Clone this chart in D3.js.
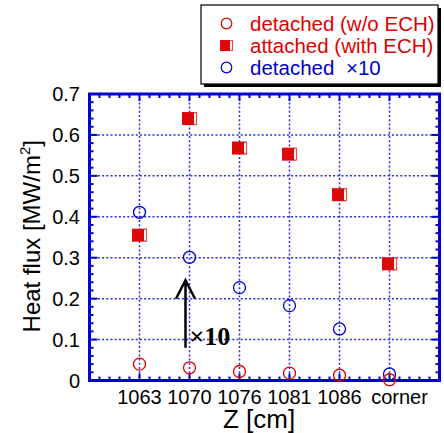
<!DOCTYPE html>
<html lang="en">
<head>
<meta charset="utf-8">
<style type="text/css">
    body { margin: 0; background: #fff; }
    text { font-family: "Liberation Sans", Arial, sans-serif; }
    .grid { stroke: #2a2ae0; stroke-width: 1.5px; stroke-dasharray: 2,2.2; fill: none; }
    .frame { stroke: #0000d0; stroke-width: 3px; fill: none; }
    .tick { stroke: #0000d0; stroke-width: 2px; }
</style>
</head>
<body>
<svg width="444" height="433"></svg>

<script src="https://cdnjs.cloudflare.com/ajax/libs/d3/7.8.5/d3.min.js"></script>
<script type="text/javascript">
    // data
    var categories = ["1063", "1070", "1076", "1081", "1086", "corner"];
    var detached = [0.040, 0.031, 0.022, 0.018, 0.013, 0.002];
    var attached = [0.355, 0.640, 0.568, 0.553, 0.454, 0.285];
    var detachedX10 = [0.411, 0.301, 0.227, 0.183, 0.126, 0.016];
    var yTicks = [0, 0.1, 0.2, 0.3, 0.4, 0.5, 0.6, 0.7];
    var legendLabels = ["detached (w/o ECH)", "attached (with ECH)", "detached"];
    var arrowFrom = 0.08, arrowTo = 0.245, arrowCat = 1;

    var red = "#e00000", blue = "#0000d0";

    var svg = d3.select("svg"),
        pLeft = 89.5, pRight = 439.5, pTop = 94, pBottom = 380.5;

    var x = d3.scaleLinear().domain([0, categories.length + 1]).range([pLeft, pRight]);
    var y = d3.scaleLinear().domain([0, 0.7]).range([pBottom, pTop]);
    var xc = function (i) { return x(i + 1); };

    // grid
    svg.selectAll(".hgrid")
        .data(yTicks.slice(1, -1))
        .enter().append("line")
        .attr("class", "grid")
        .attr("x1", pLeft).attr("x2", pRight)
        .attr("y1", function (d) { return y(d); })
        .attr("y2", function (d) { return y(d); });

    svg.selectAll(".vgrid")
        .data(categories)
        .enter().append("line")
        .attr("class", "grid")
        .attr("x1", function (d, i) { return xc(i); })
        .attr("x2", function (d, i) { return xc(i); })
        .attr("y1", pTop).attr("y2", pBottom);

    // ticks, inward on all four sides
    var ticks = svg.append("g");
    d3.range(0, 7.01, 0.2).forEach(function (v) {
        var major = Math.abs(v - Math.round(v)) < 0.01;
        var len = major ? 7 : 4;
        ticks.append("line").attr("class", "tick")
            .attr("x1", x(v)).attr("x2", x(v)).attr("y1", pBottom).attr("y2", pBottom - len);
        ticks.append("line").attr("class", "tick")
            .attr("x1", x(v)).attr("x2", x(v)).attr("y1", pTop).attr("y2", pTop + len);
    });
    d3.range(0, 0.701, 0.02).forEach(function (v) {
        var major = Math.abs(v * 10 - Math.round(v * 10)) < 0.01;
        var len = major ? 8 : 4;
        ticks.append("line").attr("class", "tick")
            .attr("x1", pLeft).attr("x2", pLeft + len).attr("y1", y(v)).attr("y2", y(v));
        ticks.append("line").attr("class", "tick")
            .attr("x1", pRight).attr("x2", pRight - len).attr("y1", y(v)).attr("y2", y(v));
    });

    svg.append("rect").attr("class", "frame")
        .attr("x", pLeft).attr("y", pTop)
        .attr("width", pRight - pLeft).attr("height", pBottom - pTop);

    // tick labels
    svg.selectAll(".ylab")
        .data(yTicks)
        .enter().append("text")
        .attr("x", 80)
        .attr("y", function (d) { return y(d); })
        .attr("dy", "0.36em")
        .attr("text-anchor", "end")
        .attr("font-size", 20)
        .text(function (d) { return d === 0 ? "0" : d3.format(".1f")(d); });

    // "corner" sits a little right of its grid line in the original
    svg.selectAll(".xlab")
        .data(categories)
        .enter().append("text")
        .attr("x", function (d, i) { return xc(i) + (i === categories.length - 1 ? 10 : 0); })
        .attr("y", 404)
        .attr("text-anchor", "middle")
        .attr("font-size", 20)
        .text(function (d) { return d; });

    svg.append("text")
        .attr("x", 259).attr("y", 428)
        .attr("text-anchor", "middle")
        .attr("font-size", 26)
        .text("Z [cm]");

    var ylab = svg.append("text")
        .attr("transform", "translate(40," + ((pTop + pBottom) / 2 - 1) + ") rotate(-90)")
        .attr("text-anchor", "middle")
        .attr("font-size", 24);
    ylab.append("tspan").text("Heat flux [MW/m");
    ylab.append("tspan").attr("font-size", 15).attr("dy", -10).text("2");
    ylab.append("tspan").attr("dy", 10).text("]");

    // markers
    function square(g, cx, cy, s) {
        g.append("rect")
            .attr("x", cx - s / 2).attr("y", cy - s / 2)
            .attr("width", s).attr("height", s)
            .attr("fill", "#dd0808");
        g.append("line")
            .attr("x1", cx + s / 2 - 0.5).attr("x2", cx + s / 2 - 0.5)
            .attr("y1", cy - s / 2 + 1).attr("y2", cy + s / 2 - 1)
            .attr("stroke", "#fff").attr("stroke-width", 1);
        g.append("path")
            .attr("d", "M" + (cx + s / 2 - 1) + "," + (cy - s / 2 + 0.5) + "H" + (cx + s / 2 + 2)
                + "M" + (cx + s / 2 + 1.5) + "," + (cy - s / 2) + "V" + (cy + s / 2)
                + "M" + (cx + s / 2 - 1) + "," + (cy + s / 2 - 0.5) + "H" + (cx + s / 2 + 2))
            .attr("stroke", "#e85050").attr("stroke-width", 1.2).attr("fill", "none");
    }

    var marks = svg.append("g");
    attached.forEach(function (v, i) { square(marks, xc(i) - 1, y(v), 13); });

    marks.selectAll(".blue")
        .data(detachedX10)
        .enter().append("circle")
        .attr("cx", function (d, i) { return xc(i); })
        .attr("cy", function (d) { return y(d); })
        .attr("r", 6)
        .attr("fill", "none").attr("stroke", blue).attr("stroke-width", 1.3);

    marks.selectAll(".red")
        .data(detached)
        .enter().append("circle")
        .attr("cx", function (d, i) { return xc(i); })
        .attr("cy", function (d) { return y(d); })
        .attr("r", 6)
        .attr("fill", "none").attr("stroke", red).attr("stroke-width", 1.3);

    // x10 arrow
    var ax = xc(arrowCat) - 4;
    svg.append("path")
        .attr("d", "M" + ax + "," + y(arrowFrom) + "V" + y(arrowTo)
            + "M" + (ax - 9.5) + "," + (y(arrowTo) + 18.5) + "L" + ax + "," + y(arrowTo)
            + "L" + (ax + 9.5) + "," + (y(arrowTo) + 18.5))
        .attr("stroke", "#000").attr("stroke-width", 2.5).attr("fill", "none");
    svg.append("text")
        .attr("x", ax + 4).attr("y", 345)
        .style("font-family", "'Liberation Serif', 'Times New Roman', serif")
        .style("font-weight", "bold")
        .attr("font-size", 26)
        .text("\u00d710");

    // legend
    var lg = svg.append("g");
    lg.append("rect").attr("x", 204).attr("y", 8).attr("width", 237).attr("height", 79).attr("fill", "#000");
    lg.append("rect").attr("x", 201).attr("y", 5).attr("width", 237).attr("height", 79)
        .attr("fill", "#fff").attr("stroke", "#000").attr("stroke-width", 1.2);

    var rowY = [23.5, 45.5, 67.5];
    lg.append("circle").attr("cx", 226.5).attr("cy", rowY[0]).attr("r", 5.3)
        .attr("fill", "none").attr("stroke", red).attr("stroke-width", 1.2);
    square(lg, 225.5, rowY[1], 11);
    lg.append("circle").attr("cx", 226.5).attr("cy", rowY[2]).attr("r", 5.3)
        .attr("fill", "none").attr("stroke", blue).attr("stroke-width", 1.2);

    lg.selectAll(".ltext")
        .data(legendLabels)
        .enter().append("text")
        .attr("x", 250)
        .attr("y", function (d, i) { return rowY[i] + 7; })
        .attr("font-size", 20.5)
        .attr("fill", function (d, i) { return i < 2 ? red : blue; })
        .text(function (d) { return d; });
    lg.append("text")
        .attr("x", 346).attr("y", rowY[2] + 7)
        .attr("font-size", 20.5)
        .attr("fill", blue)
        .text("\u00d710");
</script>
</body>
</html>
